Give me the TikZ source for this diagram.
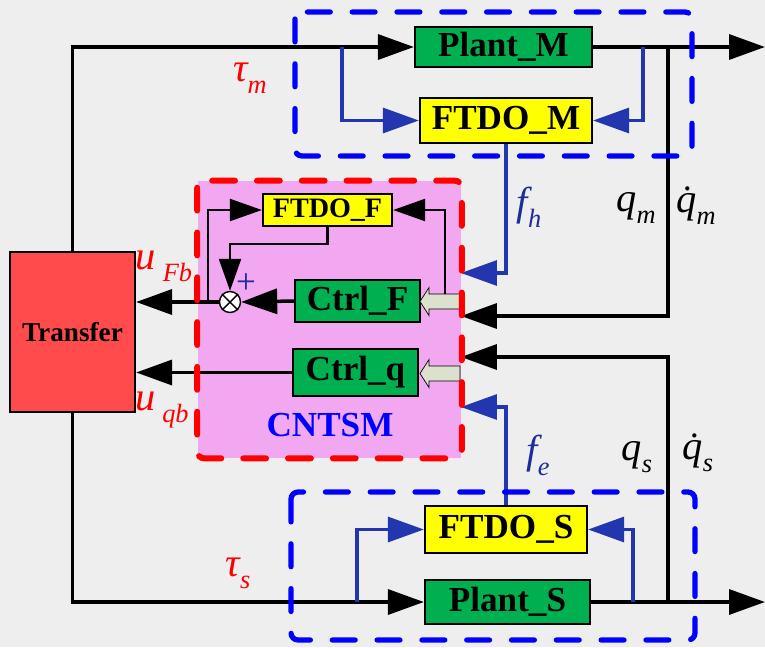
\documentclass[tikz,border=0pt]{standalone}
\usepackage{fontspec}
\setmainfont{Liberation Serif}
\usepackage{tikz}
\usepackage{xcolor}
\usetikzlibrary{arrows.meta,positioning,calc}
\definecolor{PlantGreen}{HTML}{00B050}
\definecolor{ObsYellow}{HTML}{FFFF00}
\definecolor{TransRed}{HTML}{FF4B4B}
\definecolor{CtrlPink}{HTML}{F2A8F0}
\definecolor{PaperGray}{HTML}{EEEEEE}
\definecolor{GroupBlue}{HTML}{0000FF}
\definecolor{GroupRed}{HTML}{FF0000}
\definecolor{SigBlue}{HTML}{2236B0}
\definecolor{LabelBlue}{HTML}{1C2C98}
\definecolor{HollowGray}{HTML}{DDE0CC}
\tikzset{
  plantbox/.style={draw=black, fill=PlantGreen, line width=1.3pt, inner sep=0pt, font=\bfseries\fontsize{20}{24}\selectfont},
  ftdobox/.style={draw=black, fill=ObsYellow, line width=1.3pt, inner sep=0pt, font=\bfseries\fontsize{20}{24}\selectfont},
  transbox/.style={draw=black, fill=TransRed, line width=1.3pt, inner sep=0pt, minimum width=2.5cm, minimum height=3.2cm, font=\bfseries\fontsize{15.5}{18}\selectfont},
  pinkzone/.style={fill=CtrlPink, minimum width=5.28cm, minimum height=5.54cm, inner sep=0pt},
  sumnode/.style={circle, draw=black, fill=white, line width=0.8pt, minimum size=0.42cm, inner sep=0pt},
  hollowarrow/.style={draw=black, line width=0.4pt, fill=HollowGray},
  redlabel/.style={text=GroupRed, inner sep=0.5pt, font=\itshape\fontsize{23}{26}\selectfont},
  bluelabel/.style={text=LabelBlue, inner sep=0.5pt, font=\itshape\fontsize{23}{26}\selectfont},
  blacklabel/.style={text=black, inner sep=0.5pt, font=\itshape\fontsize{23}{26}\selectfont},
  sig/.style={-{Triangle[length=0.72cm, width=0.5cm]}, line width=2pt, draw=black},
  bsig/.style={-{Triangle[length=0.72cm, width=0.5cm]}, line width=1.8pt, draw=SigBlue},
  isig/.style={-{Triangle[length=0.64cm, width=0.44cm]}, line width=1.3pt, draw=black},
  bluegroup/.style={draw=GroupBlue, line width=3pt, line cap=round, rounded corners=4pt, dash pattern=on 13pt off 12.5pt},
  redgroup/.style={draw=GroupRed, line width=3.4pt, line cap=round, rounded corners=4pt, dash pattern=on 13pt off 12.5pt}
}
\newcommand{\sublbl}[2]{#1\raisebox{-0.3em}{\fontsize{15}{17}\selectfont #2}}
\newcommand{\dotq}{q^^^^0307}
\newcommand{\hollowleft}[1]{%
  \draw[hollowarrow] ($(#1)+(20,-7.5)$) -- ($(#1)+(-11,-7.5)$) -- ($(#1)+(-11,-14)$)
    -- ($(#1)+(-20,0)$) -- ($(#1)+(-11,14)$) -- ($(#1)+(-11,7.5)$) -- ($(#1)+(20,7.5)$) -- cycle;}
\begin{document}
\begin{tikzpicture}[x=0.02cm, y=-0.02cm,
    every node/.style={align=center}
]
\fill[PaperGray] (0,0) rectangle (765,647);
\useasboundingbox (0,0) rectangle (765,647);

\node[pinkzone] (cn) at (329.5,319.5) {};

\node[plantbox, minimum width=3.54cm, minimum height=0.8cm] (pm) at (503.5,47)
    {Plant\_M};
\node[ftdobox, minimum width=3.44cm, minimum height=0.9cm] (fm) at (506,120.5)
    {FTDO\_M};
\node[ftdobox, minimum width=2.58cm, minimum height=0.64cm, font=\bfseries\fontsize{16}{19}\selectfont] (ff) at (327.5,210)
    {FTDO\_F};
\node[plantbox, minimum width=2.5cm, minimum height=0.84cm] (cf) at (357.5,301)
    {Ctrl\_F};
\node[plantbox, minimum width=2.5cm, minimum height=0.94cm] (cq) at (355.5,372.5)
    {Ctrl\_q};
\node[ftdobox, minimum width=3.24cm, minimum height=0.94cm] (fs) at (506,529.5)
    {FTDO\_S};
\node[plantbox, minimum width=3.3cm, minimum height=0.88cm] (ps) at (507.5,602)
    {Plant\_S};
\node[transbox] (tr) at (72.5,332)
    {Transfer};

\node[sumnode] (sum) at (230,302) {};
\draw[line width=0.8pt] (sum.45) -- (sum.225) (sum.135) -- (sum.315);
\node[text=LabelBlue, font=\fontsize{20}{24}\selectfont] (plus) at (246,284) {+};

\node[text=GroupBlue, font=\bfseries\fontsize{20}{24}\selectfont] (cnl) at (330,425) {CNTSM};

\node[redlabel] (taum) at (250,78) {\sublbl{τ}{m}};
\node[redlabel] (taus) at (238,573) {\sublbl{τ}{s}};
\node[redlabel] (ufb) at (164,266) {\sublbl{u\,}{Fb}};
\node[redlabel] (uqb) at (162,410) {\sublbl{u\,}{qb}};
\node[bluelabel] (fh) at (529,207) {\sublbl{f}{h}};
\node[bluelabel] (fe) at (538,455) {\sublbl{f}{e}};
\node[blacklabel] (qm) at (636,208) {\sublbl{q}{m}};
\node[blacklabel] (dqm) at (696,206) {\sublbl{\dotq}{m}};
\node[blacklabel] (qs) at (637,457) {\sublbl{q}{s}};
\node[blacklabel] (dqs) at (698,453) {\sublbl{\dotq}{s}};

\coordinate (tapm) at (342,47);
\coordinate (tapmo) at (643,47);
\coordinate (nodem) at (668,47);
\coordinate (outm) at (765,47);
\coordinate (inqm) at (461,316);
\coordinate (infh) at (461,273);
\coordinate (taps) at (357,602);
\coordinate (tapso) at (633,602);
\coordinate (nodes) at (668,602);
\coordinate (outs) at (765,602);
\coordinate (inqs) at (461,357);
\coordinate (infe) at (461,407);
\coordinate (fbtap) at (208,302);
\coordinate (hftap) at (445,300);
\coordinate (hf) at (440,301.5);
\coordinate (hq) at (440,373.5);

\draw[sig] (tr.north) |- (pm.west);
\draw[sig] (pm.east) -- (outm);
\draw[bsig] (tapm) |- (fm.west);
\draw[bsig] (tapmo) |- (fm.east);
\draw[sig] (nodem) |- (inqm);
\draw[bsig] (fm.south) |- (infh);

\draw[sig] (tr.south) |- (ps.west);
\draw[sig] (ps.east) -- (outs);
\draw[bsig] (taps) |- (fs.west);
\draw[bsig] (tapso) |- (fs.east);
\draw[sig] (nodes) |- (inqs);
\draw[bsig] (fs.north) |- (infe);

\draw[sig] (cf.west) -- (sum.east);
\draw[sig] (sum.west) -- (tr.east |- sum.west);
\draw[sig] (cq.west) -- (tr.east |- cq.west);
\draw[isig] (fbtap) |- (ff.west);
\draw[isig] (ff.south) -- ++(0,17) -| (sum.north);
\draw[isig] (hftap) |- (ff.east);

\hollowleft{hf}
\hollowleft{hq}

\draw[bluegroup] (295,12) rectangle (692,156);
\draw[bluegroup] (291,492) rectangle (695,640);
\draw[redgroup] (cn.north west) rectangle (cn.south east);
\end{tikzpicture}
\end{document}
